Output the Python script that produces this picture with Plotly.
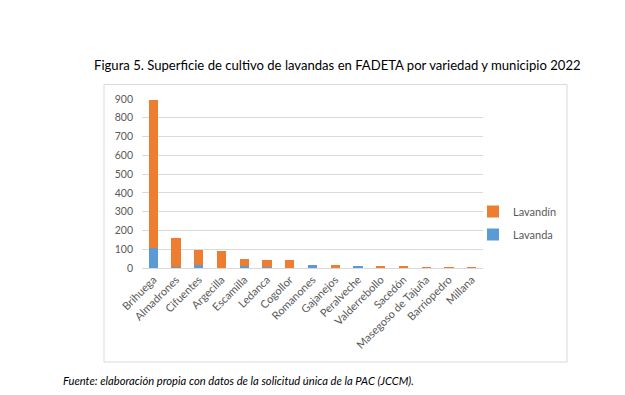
import plotly.graph_objects as go

municipios = ["Brihuega", "Almadrones", "Cifuentes", "Argecilla", "Escamilla", "Ledanca",
              "Cogollor", "Romanones", "Gajanejos", "Peralveche", "Valderrebollo", "Sacedón",
              "Masegoso de Tajuña", "Barriopedro", "Millana"]
lavanda = [107, 3, 17, 1, 11, 7, 0, 16, 0, 11, 0, 0, 0, 0, 0]
lavandin = [788, 155, 81, 90, 37, 38, 43, 0, 14, 0, 11, 6, 4, 2, 1]
y_ticks = [0, 100, 200, 300, 400, 500, 600, 700, 800, 900]

title_text = "Figura 5. Superficie de cultivo de lavandas en FADETA por variedad y municipio 2022"
source_text = "<i>Fuente: elaboración propia con datos de la solicitud única de la PAC (JCCM).</i>"

# page body has an 8px margin; work in screen pixels and convert
OFF = 8
W, H = 625 - OFF, 395 - OFF
L, R, T, B = 142 - OFF, 483 - OFF, 99 - OFF, 268 - OFF
pw, ph = R - L, B - T

def px_x(p):
    return (p - OFF - L) / pw

def px_y(p):
    return (B - (p - OFF)) / ph

fig = go.Figure()
fig.add_trace(go.Bar(x=municipios, y=lavanda, name="Lavanda", marker_color="#5B9BD5",
                     marker_line_width=0, legendgroup="a", legendrank=2))
fig.add_trace(go.Bar(x=municipios, y=lavandin, name="Lavandín", marker_color="#ED7D31",
                     marker_line_width=0, legendgroup="b", legendrank=1))

font = "Lato, 'Open Sans', sans-serif"
fig.update_layout(
    width=W, height=H, barmode="stack", bargap=0.59,
    margin=dict(l=L, r=W - R, t=T, b=H - B, autoexpand=False),
    paper_bgcolor="white", plot_bgcolor="white",
    font=dict(family=font, color="#595959", size=11),
    showlegend=True,
    legend=dict(traceorder="grouped", x=px_x(473), y=px_y(197), xanchor="left",
                yanchor="top", font=dict(size=11, color="#595959"), itemwidth=30,
                tracegroupgap=4, bgcolor="rgba(0,0,0,0)"),
    xaxis=dict(tickangle=-45, showgrid=False, showline=True, linecolor="#d9d9d9",
               linewidth=1, ticks="", automargin=False,
               tickfont=dict(size=11, color="#595959")),
    yaxis=dict(range=[0, 900], tickvals=y_ticks, showgrid=True, gridcolor="#d9d9d9",
               gridwidth=1, zeroline=False, showline=False, ticks="", automargin=False,
               ticklabelstandoff=8, tickfont=dict(size=10.5, color="#595959")),
)

fig.add_shape(type="rect", xref="paper", yref="paper",
              x0=px_x(104), x1=px_x(567), y0=px_y(362), y1=px_y(84.5),
              line=dict(color="#d9d9d9", width=1), fillcolor="rgba(0,0,0,0)", layer="below")

fig.add_annotation(text=title_text, xref="paper", yref="paper", x=px_x(337.5), y=px_y(65),
                   xanchor="center", yanchor="middle", showarrow=False,
                   font=dict(family=font, size=13.1, color="#000000"))
fig.add_annotation(text=source_text, xref="paper", yref="paper", x=px_x(61), y=px_y(380),
                   xanchor="left", yanchor="middle", showarrow=False,
                   font=dict(family=font, size=11.2, color="#000000"))

fig.write_html("out.html")
